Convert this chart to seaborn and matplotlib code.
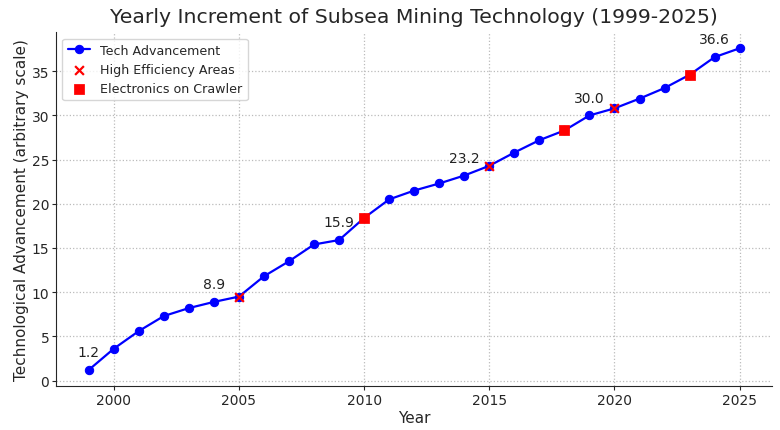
import matplotlib
matplotlib.use("Agg")
import matplotlib.pyplot as plt
import pandas as pd
import seaborn as sns

years = list(range(1999, 2026))
advancement = [
    1.2, 3.6, 5.6, 7.3, 8.2, 8.9, 9.5, 11.8, 13.5, 15.4, 15.9, 18.4, 20.5, 21.5,
    22.3, 23.2, 24.3, 25.8, 27.2, 28.3, 30.0, 30.8, 31.9, 33.1, 34.6, 36.6, 37.6,
]
high_eff_years = [2005, 2015, 2020]
crawler_years = [2010, 2018, 2023]
label_years = [1999, 2004, 2009, 2014, 2019, 2024]

df = pd.DataFrame({"year": years, "value": advancement})
hi = df[df["year"].isin(high_eff_years)]
cr = df[df["year"].isin(crawler_years)]

sns.set_style("ticks")
plt.rcParams["font.family"] = ["DejaVu Sans"]

fig, ax = plt.subplots(figsize=(7.8, 4.31), dpi=100)

sns.lineplot(data=df, x="year", y="value", marker="o", color="blue",
             markersize=6, markeredgecolor="blue", linewidth=1.6,
             label="Tech Advancement", ax=ax)
sns.scatterplot(data=hi, x="year", y="value", marker="x", color="red",
                s=40, linewidth=1.6, label="High Efficiency Areas", ax=ax, zorder=3)
sns.scatterplot(data=cr, x="year", y="value", marker="s", color="red",
                s=45, edgecolor="red", label="Electronics on Crawler", ax=ax, zorder=3)

for _, row in df[df["year"].isin(label_years)].iterrows():
    ax.annotate(f"{row['value']:.1f}", (row["year"], row["value"]),
                textcoords="offset points", xytext=(0, 10), ha="center",
                fontsize=10, color="#222222")

ax.set_title("Yearly Increment of Subsea Mining Technology (1999-2025)",
             fontsize=14.7, pad=7)
ax.set_xlabel("Year", fontsize=11, labelpad=2)
ax.set_ylabel("Technological Advancement (arbitrary scale)", fontsize=11, labelpad=2)
ax.tick_params(labelsize=10, length=3, pad=2)
ax.grid(True, linestyle=":", color="#bbbbbb", linewidth=0.9)
sns.despine(ax=ax)
ax.legend(loc="upper left", fontsize=9.1, frameon=True, handlelength=1.8)

fig.subplots_adjust(left=0.072, right=0.99, top=0.923, bottom=0.102)
fig.savefig("out.png", dpi=100)
